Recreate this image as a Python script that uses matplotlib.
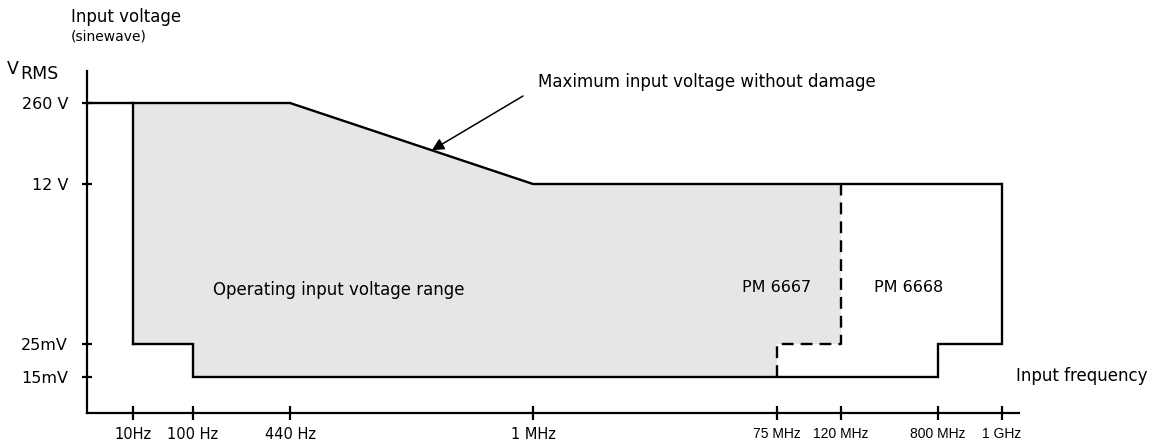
import numpy as np
import matplotlib
matplotlib.use("Agg")
import matplotlib.pyplot as plt

plt.rcParams['font.family'] = ['DejaVu Sans']

# ---------------------------------------------------------------------------
# Data (schematic diagram, frequency in Hz, voltage in V RMS)
# ---------------------------------------------------------------------------
freq_ticks = [10, 100, 440, 1e6, 75e6, 120e6, 800e6, 1e9]
freq_labels = ["10Hz", "100 Hz", "440 Hz", "1 MHz", "75 MHz", "120 MHz", "800 MHz", "1 GHz"]
volt_ticks = [15e-3, 25e-3, 12, 260]
volt_labels = ["15mV", "25mV", "12 V", "260 V"]

# maximum input voltage without damage
max_freq = [440, 1e6, 1e9]
max_volt = [260, 12, 12]

# lower limit of PM 6667 (step curve)
low_freq_6667 = [10, 100, 100, 75e6, 75e6, 120e6]
low_volt_6667 = [25e-3, 25e-3, 15e-3, 15e-3, 25e-3, 25e-3]

# lower limit of PM 6668
low_freq_6668 = [10, 100, 100, 800e6, 800e6, 1e9]
low_volt_6668 = [25e-3, 25e-3, 15e-3, 15e-3, 25e-3, 25e-3]

arrow_freq = 40e3

# ---------------------------------------------------------------------------
# Schematic scales: tick values sit at fixed positions along the axes
# ---------------------------------------------------------------------------
X_ANCHOR = [46, 106, 203, 446, 690, 754, 851, 915]
X_LEN = 932
Y_ANCHOR = [36, 69, 229, 310]
Y_LEN = 342


def make_scale(values, anchors):
    lv = np.log10(values)
    an = np.asarray(anchors, dtype=float)

    def fwd(v):
        v = np.log10(np.clip(np.asarray(v, dtype=float), 1e-12, None))
        out = np.interp(v, lv, an)
        lo = (an[1] - an[0]) / (lv[1] - lv[0])
        hi = (an[-1] - an[-2]) / (lv[-1] - lv[-2])
        out = np.where(v < lv[0], an[0] + (v - lv[0]) * lo, out)
        out = np.where(v > lv[-1], an[-1] + (v - lv[-1]) * hi, out)
        return out

    def inv(p):
        p = np.asarray(p, dtype=float)
        out = np.interp(p, an, lv)
        lo = (lv[1] - lv[0]) / (an[1] - an[0])
        hi = (lv[-1] - lv[-2]) / (an[-1] - an[-2])
        out = np.where(p < an[0], lv[0] + (p - an[0]) * lo, out)
        out = np.where(p > an[-1], lv[-1] + (p - an[-1]) * hi, out)
        return 10 ** out

    return fwd, inv


xf, xi = make_scale(freq_ticks, X_ANCHOR)
yf, yi = make_scale(volt_ticks, Y_ANCHOR)

W, H = 1162, 444
fig = plt.figure(figsize=(W / 100, H / 100), dpi=100)
ax = fig.add_axes([87 / W, 31 / H, X_LEN / W, Y_LEN / H])
ax.set_xscale('function', functions=(xf, xi))
ax.set_yscale('function', functions=(yf, yi))
f_min, f_max = float(xi(0)), float(xi(X_LEN))
v_min, v_max = float(yi(0)), float(yi(Y_LEN))
ax.set_xlim(f_min, f_max)
ax.set_ylim(v_min, v_max)

# operating region of PM 6667 (shaded)
top_f = [10, 440, 1e6, 120e6]
top_v = [260, 260, 12, 12]
poly_f = low_freq_6667 + top_f[::-1]
poly_v = low_volt_6667 + top_v[::-1]
ax.fill(poly_f, poly_v, color='#e6e6e6', lw=0, zorder=1)

lw = 1.7
# maximum voltage line, starting at the axis
ax.plot([f_min] + max_freq, [max_volt[0]] + max_volt, color='black', lw=lw,
        solid_capstyle='butt', zorder=3)
# left edge at 10 Hz
ax.plot([10, 10], [low_volt_6668[0], 260], color='black', lw=lw, zorder=3)
# PM 6668 lower limit and right edge
ax.plot(low_freq_6668 + [1e9], low_volt_6668 + [12], color='black', lw=lw,
        solid_joinstyle='miter', zorder=3)
# PM 6667 dashed boundary
ax.plot(low_freq_6667[3:] + [120e6], low_volt_6667[3:] + [12], color='black',
        lw=lw, ls=(0, (5, 3)), zorder=3)

ax.spines['top'].set_visible(False)
ax.spines['right'].set_visible(False)
for s in ('left', 'bottom'):
    ax.spines[s].set_linewidth(1.6)

ax.set_xticks(freq_ticks)
ax.set_xticklabels(freq_labels, fontsize=10.5)
# the high-frequency labels are set in a tighter face
for lab in ax.get_xticklabels()[4:]:
    lab.set_family(['Liberation Sans Narrow', 'Liberation Sans'])
    lab.set_fontsize(10)
ax.set_yticks(volt_ticks)
ax.set_yticklabels(volt_labels, fontsize=11.5)
ax.xaxis.set_minor_locator(matplotlib.ticker.NullLocator())
ax.yaxis.set_minor_locator(matplotlib.ticker.NullLocator())
ax.tick_params(axis='x', direction='inout', length=10, width=1.6, pad=5)
ax.tick_params(axis='y', direction='inout', length=7, width=1.6, pad=10)

# texts
ax.text(xi(126), yi(123), "Operating input voltage range", fontsize=12,
        va='center', ha='left')
ax.text(xi(655), yi(126), "PM 6667", fontsize=11.5, va='center', ha='left')
ax.text(xi(787), yi(126), "PM 6668", fontsize=11.5, va='center', ha='left')

# point on the sloping part of the limit line (log-log straight segment)
t = (np.log10(arrow_freq) - np.log10(max_freq[0])) / (np.log10(max_freq[1]) - np.log10(max_freq[0]))
arrow_volt = 10 ** (np.log10(max_volt[0]) + t * (np.log10(max_volt[1]) - np.log10(max_volt[0])))
ax.annotate("", xy=(arrow_freq, arrow_volt), xytext=(xi(436), yi(317)),
            arrowprops=dict(arrowstyle='-|>', color='black', lw=1.1,
                            mutation_scale=18, shrinkA=0, shrinkB=0,
                            facecolor='#555555'))
fig.text(538 / W, 1 - 82 / H, "Maximum input voltage without damage",
         fontsize=12, va='center', ha='left')

fig.text(71 / W, 1 - 17 / H, "Input voltage", fontsize=12, va='center', ha='left')
fig.text(71 / W, 1 - 36 / H, "(sinewave)", fontsize=10, va='center', ha='left')
fig.text(7 / W, 1 - 69 / H, "V", fontsize=12.5, va='center', ha='left')
fig.text(20 / W, 1 - 74 / H, "RMS", fontsize=12.5, va='center', ha='left')
fig.text(1016 / W, 1 - 376 / H, "Input frequency", fontsize=12, va='center', ha='left')

fig.savefig("out.png", dpi=100, facecolor='white')
